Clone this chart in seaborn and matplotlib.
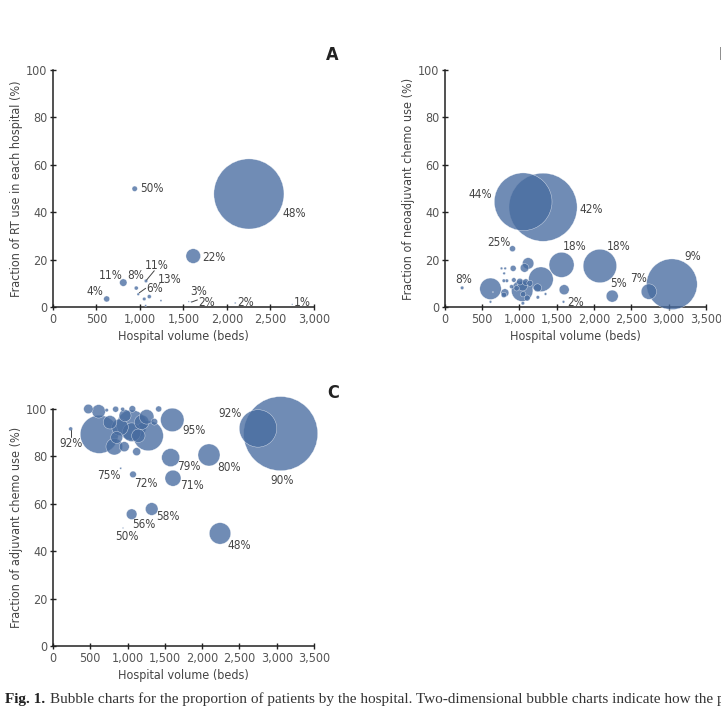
import matplotlib
matplotlib.use('Agg')
import matplotlib.pyplot as plt
import matplotlib.ticker as mticker
from matplotlib import font_manager
import pandas as pd
import seaborn as sns

# ---- panel A: RT use ----
a_beds = [2252, 1612, 939, 808, 617, 957, 1069, 980, 1049, 1107, 1065, 1241, 1560, 1590, 2095, 2750]
a_frac = [47.7, 21.5, 49.9, 10.3, 3.4, 8.0, 11.0, 5.4, 3.4, 4.4, 0.6, 2.7, 2.3, 2.2, 1.7, 1.1]
a_patients = [4900, 213, 29, 55, 36, 16, 12, 7, 12, 16, 4, 4, 2, 2, 3, 2]
a_labels = ['50%', '48%', '22%', '11%', '8%', '11%', '13%', '6%', '4%', '3%', '2%', '2%', '1%']
a_lab_x = [1137, 2769, 1846, 666, 950, 1191, 1344, 1172, 483, 1669, 1770, 2214, 2864]
a_lab_y = [49.8, 39.4, 20.7, 13.2, 13.2, 17.7, 11.8, 7.9, 6.5, 6.6, 1.8, 2.0, 2.1]

# ---- panel B: neoadjuvant chemo ----
b_beds = [1050, 1317, 3044, 2079, 1565, 2244, 2736, 1591, 232, 907, 612, 1288, 1037, 1117,
          1069, 1600, 805, 916, 1243, 1104, 760, 809, 795, 791, 831, 925, 894, 791, 1247,
          1350, 1046, 612, 644, 1042, 1006, 1086, 962, 1140, 1050]
b_frac = [44.4, 42.1, 9.6, 17.3, 17.8, 4.6, 6.5, 2.2, 8.1, 24.6, 7.7, 11.7, 6.9, 18.4,
          16.5, 7.3, 6.0, 16.3, 8.1, 3.8, 16.3, 16.3, 14.2, 11.1, 11.1, 11.4, 8.6, 5.1, 4.1,
          5.5, 1.6, 2.2, 6.3, 8.9, 10.7, 10.5, 7.9, 10.0, 5.4]
b_patients = [3318, 4624, 2560, 1116, 625, 144, 237, 7, 12, 36, 458, 605, 458, 130,
              74, 100, 64, 36, 64, 36, 7, 7, 7, 12, 12, 21, 16, 29, 12,
              7, 12, 7, 2, 100, 44, 44, 29, 36, 29]
b_labels = ['44%', '42%', '25%', '18%', '18%', '9%', '8%', '5%', '7%', '2%']
b_lab_x = [469, 1967, 728, 1743, 2333, 3322, 246, 2333, 2592, 1752]
b_lab_y = [47.3, 41.2, 27.3, 25.6, 25.6, 21.5, 11.8, 10.0, 11.9, 2.0]

# ---- panel C: adjuvant chemo ----
c_beds = [3053, 2749, 1600, 1578, 2092, 1609, 1073, 908, 1324, 1055, 939, 2240, 237,
          621, 1278, 1055, 822, 956, 1122, 474, 612, 840, 934, 1064, 1417, 720, 1256,
          1359, 764, 898, 1055, 1144, 854, 1189, 966]
c_frac = [89.6, 91.8, 95.4, 79.5, 80.6, 70.8, 72.4, 75.0, 57.8, 55.6, 49.8, 47.5, 91.6,
          89.3, 88.7, 93.2, 84.1, 84.1, 82.0, 100.0, 99.0, 99.9, 99.9, 100.0, 100.0, 99.5, 96.7,
          94.6, 94.4, 92.3, 90.2, 88.7, 88.0, 94.4, 97.2]
c_patients = [5476, 1399, 548, 324, 484, 256, 44, 4, 159, 112, 2, 458, 16,
              1444, 900, 900, 276, 100, 64, 88, 180, 36, 16, 44, 36, 12, 213,
              44, 180, 276, 346, 180, 144, 213, 144]
c_labels = ['92%', '95%', '92%', '90%', '79%', '80%', '75%', '72%', '71%', '58%', '56%', '50%', '48%']
c_lab_x = [237, 1891, 2374, 3075, 1828, 2356, 755, 1243, 1864, 1542, 1225, 988, 2504]
c_lab_y = [85.5, 90.8, 98.2, 70.0, 75.7, 75.4, 71.9, 68.4, 67.6, 54.6, 51.1, 46.4, 42.6]

BLUE = '#486ca0'
TXT = '#444444'

sns.set_style('ticks')

# pick a condensed sans if one is installed
fonts = font_manager.fontManager.ttflist
names = {f.name for f in fonts}
stretch = 'normal'
if 'Liberation Sans Narrow' in names:
    fam = 'Liberation Sans Narrow'
elif any(f.name == 'DejaVu Sans' and f.stretch == 'condensed' for f in fonts):
    fam = 'DejaVu Sans'
    stretch = 'condensed'
else:
    fam = 'Liberation Sans'
print('font:', fam, stretch)
plt.rcParams['font.family'] = [fam, 'DejaVu Sans']
plt.rcParams['font.stretch'] = stretch


def draw_panel(ax, beds, frac, patients, labels, lx, ly, xmax, ylabel):
    df = pd.DataFrame({'beds': beds, 'frac': frac, 'patients': patients})
    df = df.sort_values('patients', ascending=False)
    sns.scatterplot(data=df, x='beds', y='frac', size='patients', sizes=(0, 3120),
                    size_norm=(0, 6000), color=BLUE, alpha=0.78, edgecolor='white',
                    linewidth=0.3, legend=False, ax=ax, clip_on=False, zorder=3)
    for t, x, y in zip(labels, lx, ly):
        ax.text(x, y, t, ha='center', va='center', fontsize=8.5, color=TXT, zorder=4)
    ax.set_xlim(0, xmax)
    ax.set_ylim(0, 100)
    ax.set_xticks(range(0, xmax + 1, 500))
    ax.set_yticks(range(0, 101, 20))
    ax.xaxis.set_major_formatter(mticker.StrMethodFormatter('{x:,.0f}'))
    ax.set_xlabel('Hospital volume (beds)', fontsize=9, color=TXT, labelpad=3)
    ax.set_ylabel(ylabel, fontsize=9, color=TXT, labelpad=2)
    for s in ['top', 'right']:
        ax.spines[s].set_visible(False)
    for s in ['left', 'bottom']:
        ax.spines[s].set_color('#222222')
        ax.spines[s].set_linewidth(1.1)
    ax.tick_params(direction='inout', length=5, width=1, color='#222222',
                   labelsize=9, labelcolor='#555555', pad=1.5)


fig = plt.figure(figsize=(7.21, 7.14), dpi=100)
ax_a = fig.add_axes([0.0735, 0.570, 0.362, 0.332])
ax_b = fig.add_axes([0.617, 0.570, 0.362, 0.332])
ax_c = fig.add_axes([0.0735, 0.0952, 0.362, 0.332])

draw_panel(ax_a, a_beds, a_frac, a_patients, a_labels, a_lab_x, a_lab_y, 3000,
           'Fraction of RT use in each hospital (%)')
draw_panel(ax_b, b_beds, b_frac, b_patients, b_labels, b_lab_x, b_lab_y, 3500,
           'Fraction of neoadjuvant chemo use (%)')
draw_panel(ax_c, c_beds, c_frac, c_patients, c_labels, c_lab_x, c_lab_y, 3500,
           'Fraction of adjuvant chemo use (%)')

# leader lines
ax_a.plot([1076, 1164], [11.4, 15.3], color=TXT, lw=0.7, zorder=4)
ax_a.plot([992, 1065], [6.0, 7.9], color=TXT, lw=0.7, zorder=4)
ax_a.plot([1594, 1660], [2.1, 3.0], color=TXT, lw=0.7, zorder=4)
ax_c.plot([237, 237], [91.0, 88.2], color=TXT, lw=0.7, zorder=4)

fig.text(332 / 721, 1 - 55 / 714, 'A', fontsize=13, fontweight='bold', color='#222222',
         ha='center', va='center')
fig.text(719 / 721, 1 - 55 / 714, 'B', fontsize=13, fontweight='bold', color='#222222',
         ha='left', va='center')
fig.text(333 / 721, 1 - 393 / 714, 'C', fontsize=13, fontweight='bold', color='#222222',
         ha='center', va='center')

fig.text(0.007, 1 - 703 / 714, 'Fig. 1.', fontsize=11, fontweight='bold', color='#222222',
         family=['Liberation Serif', 'DejaVu Serif'], stretch='normal', va='baseline')
fig.text(0.069, 1 - 703 / 714,
         'Bubble charts for the proportion of patients by the hospital. Two-dimensional bubble charts '
         'indicate how the proportion of patients',
         fontsize=11, color='#333333', family=['Liberation Serif', 'DejaVu Serif'],
         stretch='normal', va='baseline')

fig.savefig('out.png', dpi=100)
